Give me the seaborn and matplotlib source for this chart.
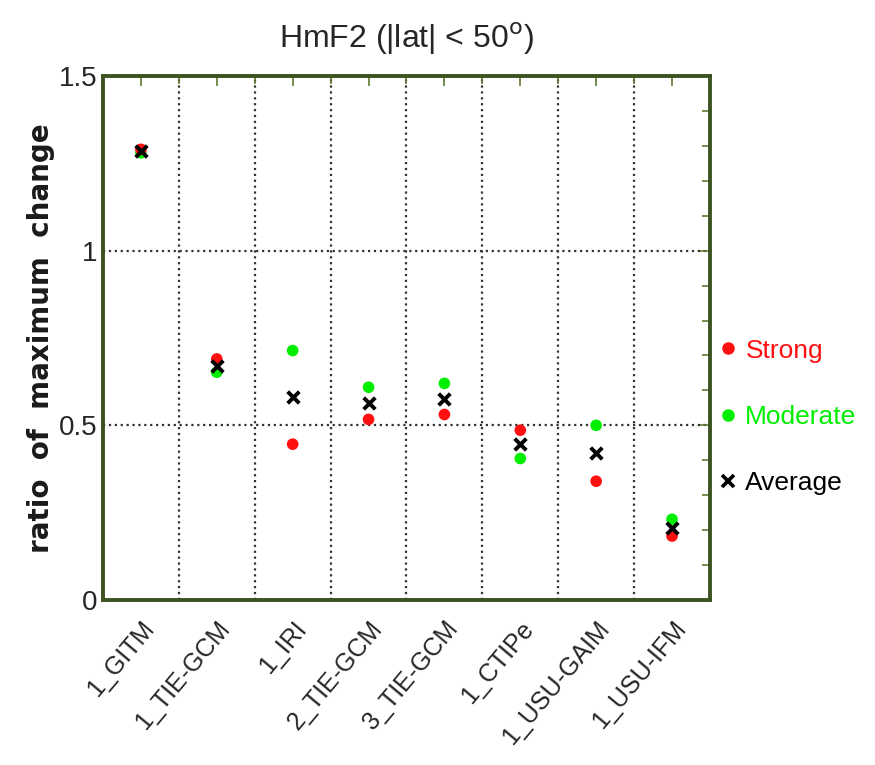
import pandas as pd
import numpy as np
import seaborn as sns
import matplotlib.pyplot as plt
from matplotlib.lines import Line2D
from matplotlib.ticker import MultipleLocator, FixedLocator

# models and ratio values
models = ['1_GITM', '1_TIE-GCM', '1_IRI', '2_TIE-GCM', '3_TIE-GCM',
          '1_CTIPe', '1_USU-GAIM', '1_USU-IFM']
strong = [1.29, 0.69, 0.446, 0.517, 0.531, 0.486, 0.34, 0.183]
moderate = [1.28, 0.652, 0.714, 0.609, 0.62, 0.405, 0.50, 0.231]
average = [1.285, 0.671, 0.58, 0.563, 0.576, 0.446, 0.42, 0.207]

df = pd.DataFrame({'model': models, 'pos': np.arange(len(models)),
                   'Strong': strong, 'Moderate': moderate, 'Average': average})

sns.set_style('white')
plt.rcParams['font.family'] = ['Liberation Sans', 'DejaVu Sans']

fig = plt.figure(figsize=(8.75, 7.65), dpi=100)
ax = fig.add_axes([0.1177, 0.2157, 0.6937, 0.685])

green = '#00ee00'
red = '#ff1010'
sns.scatterplot(data=df, x='pos', y='Moderate', color=green, s=70,
                edgecolor='none', ax=ax, zorder=3)
sns.scatterplot(data=df, x='pos', y='Strong', color=red, s=70,
                edgecolor='none', ax=ax, zorder=4)
sns.scatterplot(data=df, x='pos', y='Average', color='black', marker='x',
                s=70, linewidth=2.8, ax=ax, zorder=5)

ax.set_xlim(-0.5, len(models) - 0.5)
ax.set_ylim(0, 1.5)

# category labels at integer positions, grid lines between categories
ax.xaxis.set_major_locator(FixedLocator(df['pos']))
ax.set_xticklabels(models, rotation=50, ha='right', rotation_mode='anchor',
                   fontsize=18)
ax.xaxis.set_minor_locator(FixedLocator(np.arange(0.5, len(models) - 0.5, 1)))
ax.yaxis.set_major_locator(FixedLocator([0, 0.5, 1, 1.5]))
ax.set_yticklabels(['0', '0.5', '1', '1.5'], fontsize=20)
ax.yaxis.set_minor_locator(MultipleLocator(0.1))

ax.grid(False)
ax.grid(True, which='minor', axis='x', linestyle=':', color='#333333', linewidth=1.6)
ax.grid(True, which='major', axis='y', linestyle=':', color='#333333', linewidth=1.6)
ax.yaxis.grid(False, which='minor')

spine_col = '#3b5320'
for sp in ax.spines.values():
    sp.set_color(spine_col)
    sp.set_linewidth(2.8)
ax.tick_params(which='both', direction='in', top=True, right=True,
               color='#5a7a30', width=1.2)
ax.tick_params(which='major', length=7, pad=4)
ax.tick_params(which='minor', length=6)
ax.tick_params(axis='x', which='major', pad=12)

ax.set_xlabel('')
ax.set_ylabel('ratio  of  maximum  change', fontsize=20, fontweight='bold',
              family='DejaVu Sans', color='#1a1a1a', labelpad=3)
ax.set_title('HmF2 (|lat| < 50$^{\\rm o}$)', fontsize=23, pad=20)

handles = [Line2D([], [], marker='o', linestyle='none', color=red, markersize=8),
           Line2D([], [], marker='o', linestyle='none', color=green, markersize=8),
           Line2D([], [], marker='x', linestyle='none', color='black',
                  markersize=8, markeredgewidth=2.6)]
fig.legend(handles, ['Strong', 'Moderate', 'Average'],
           labelcolor=[red, green, 'black'], loc='center left',
           bbox_to_anchor=(0.79, 0.455), frameon=False, fontsize=19,
           labelspacing=1.6, handletextpad=0.15, handlelength=1.0)

plt.savefig('out.png', dpi=100)
